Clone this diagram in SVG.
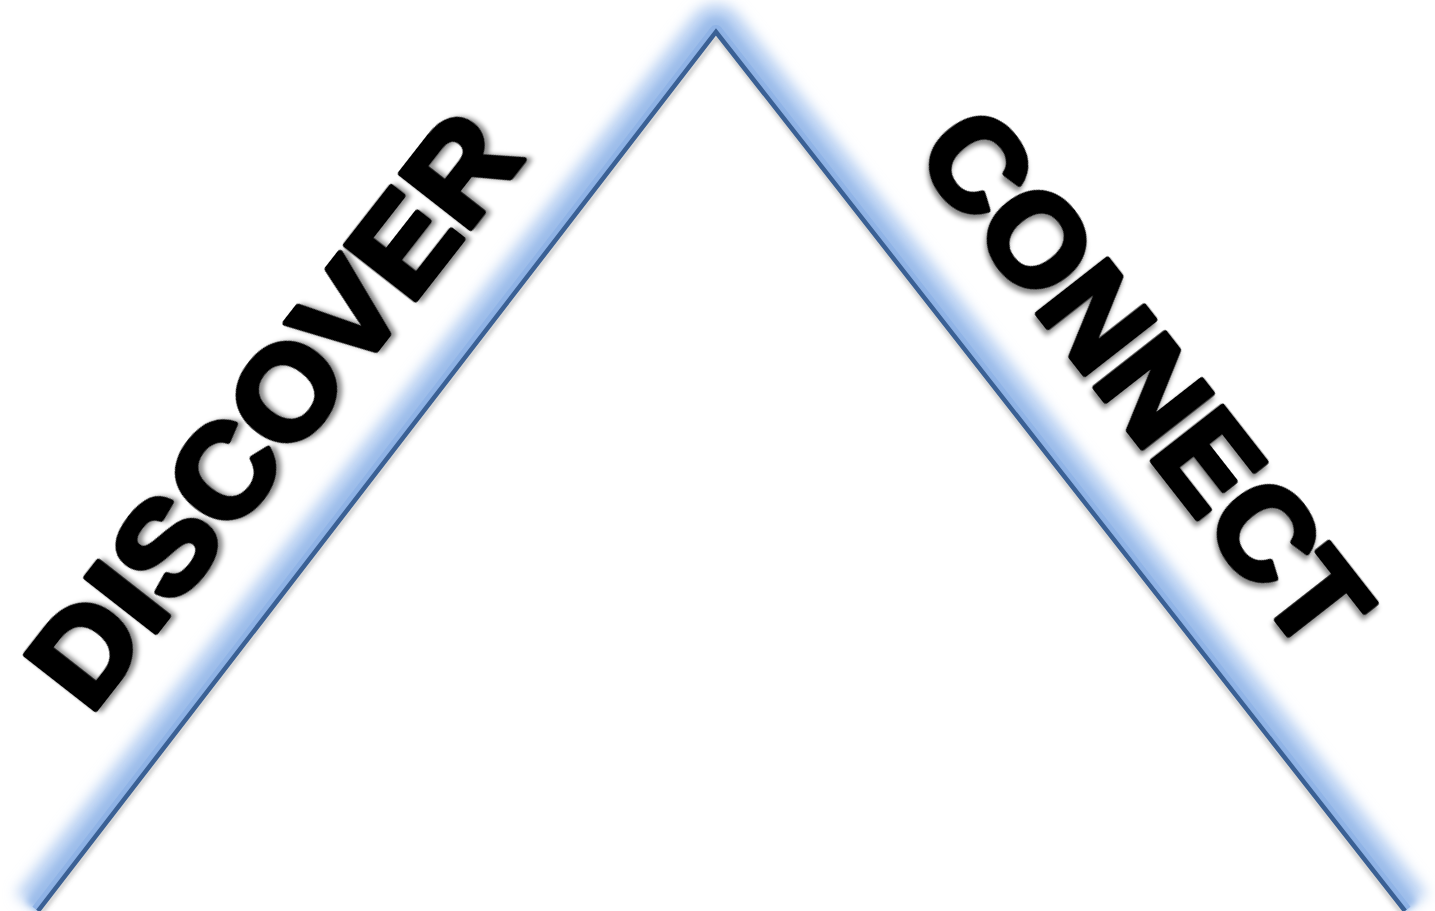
<svg xmlns="http://www.w3.org/2000/svg" width="1435" height="911" viewBox="0 0 1435 911">
  <style>
    .word { font-family: "Liberation Sans", Arial, sans-serif; font-weight: bold; font-size: 128px; fill: #000; stroke: #000; stroke-width: 6; stroke-linejoin: round; }
  </style>
  <defs>
    <clipPath id="outside">
      <polygon points="0,0 1435,0 1435,911 1405,911 716,32 38,911 0,911"/>
    </clipPath>
    <filter id="glowBlur" x="-10%" y="-10%" width="120%" height="120%">
      <feGaussianBlur stdDeviation="7"/>
    </filter>
    <filter id="midBlur" x="-10%" y="-10%" width="120%" height="120%">
      <feGaussianBlur stdDeviation="3"/>
    </filter>
    <filter id="softBlur" x="-10%" y="-10%" width="120%" height="120%">
      <feGaussianBlur stdDeviation="2"/>
    </filter>
    <filter id="textShadow" x="-20%" y="-20%" width="140%" height="140%">
      <feDropShadow dx="3" dy="4" stdDeviation="2.5" flood-color="#000" flood-opacity="0.45"/>
    </filter>
  </defs>
  <rect width="1435" height="911" fill="#ffffff"/>

  <g id="connectors">
    <g clip-path="url(#outside)">
      <polyline points="38,911 716,32 1405,911" fill="none" stroke="#b6cff2" stroke-width="56" stroke-linejoin="round" filter="url(#glowBlur)"/>
      <polyline points="38,911 716,32 1405,911" fill="none" stroke="#9dbdea" stroke-width="30" stroke-linejoin="round" filter="url(#midBlur)"/>
      <polyline points="38,911 716,32 1405,911" fill="none" stroke="#8fb3e6" stroke-width="14" stroke-linejoin="round"/>
    </g>
    <polyline points="40,914 717,37 1403,914" fill="none" stroke="#666" stroke-opacity="0.4" stroke-width="4" filter="url(#softBlur)"/>
    <polyline points="38,911 716,32 1405,911" fill="none" stroke="#3a6094" stroke-width="4.5" stroke-linejoin="miter"/>
  </g>

  <g id="discover">
    <text class="word" filter="url(#textShadow)" transform="translate(90,716) rotate(-52)" textLength="708" lengthAdjust="spacingAndGlyphs">DISCOVER</text>
  </g>

  <g id="connect">
    <text class="word" filter="url(#textShadow)" transform="translate(913,154) rotate(52)" textLength="640" lengthAdjust="spacingAndGlyphs">CONNECT</text>
  </g>
</svg>
